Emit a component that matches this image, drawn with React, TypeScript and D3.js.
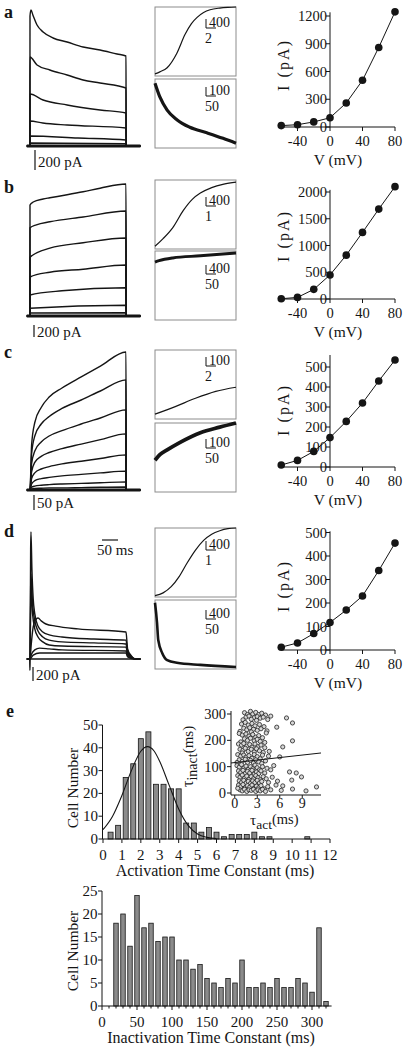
import React from "react";
import * as d3 from "d3";

const FONT = "'Liberation Serif', 'Times New Roman', Times, serif";
const INK = "#151515";
const BOX = "#8c8c8c";
const BAR_FILL = "#8b8b8b";

type Pt = [number, number];
type Trace = { t: number[]; v: number[] };

// ================= DATA =================
const panelLetters = ["a", "b", "c", "d", "e"];

// whole-cell current traces: time (ms) and current above baseline (pA)
const tracesA: Trace[] = [
  { t: [0, 3, 9, 22, 41, 72, 116, 166, 219, 272, 300], v: [1300, 1360, 1310, 1210, 1140, 1080, 1040, 990, 960, 920, 900] },
  { t: [0, 22, 62, 116, 166, 219, 300], v: [890, 810, 760, 710, 660, 630, 580] },
  { t: [0, 41, 116, 219, 300], v: [520, 460, 410, 360, 330] },
  { t: [0, 40, 116, 300], v: [250, 230, 210, 180] },
  { t: [0, 150, 300], v: [100, 80, 60] },
  { t: [0, 300], v: [30, 22] },
  { t: [0, 300], v: [0, 0] },
];
const tracesB: Trace[] = [
  { t: [0, 10, 41, 62, 116, 166, 219, 300], v: [1850, 1900, 1950, 1970, 2020, 2070, 2130, 2200] },
  { t: [0, 20, 62, 166, 300], v: [1470, 1520, 1570, 1650, 1750] },
  { t: [0, 62, 166, 300], v: [980, 1130, 1220, 1300] },
  { t: [0, 62, 166, 300], v: [650, 730, 780, 850] },
  { t: [0, 100, 300], v: [350, 420, 470] },
  { t: [0, 300], v: [130, 180] },
  { t: [0, 300], v: [50, 55] },
  { t: [0, 300], v: [0, 0] },
];
const cTimes = [0, 5, 15, 35, 60, 100, 160, 220, 300];
const tracesC: Trace[] = [
  { t: cTimes, v: [0, 150, 225, 275, 310, 340, 377, 413, 460] },
  { t: cTimes, v: [0, 120, 180, 220, 245, 272, 300, 330, 367] },
  { t: cTimes, v: [0, 88, 130, 160, 180, 198, 220, 240, 267] },
  { t: cTimes, v: [0, 60, 92, 112, 125, 138, 153, 168, 187] },
  { t: cTimes, v: [0, 38, 57, 70, 78, 87, 96, 105, 117] },
  { t: cTimes, v: [0, 20, 31, 38, 42, 47, 52, 57, 63] },
  { t: cTimes, v: [0, 9, 13, 16, 18, 20, 22, 24, 27] },
  { t: cTimes, v: [0, 3, 5, 6, 7, 7, 8, 9, 10] },
];
const tracesD: Trace[] = [
  { t: [0, 2, 3, 6, 10, 15, 25, 40, 60, 100, 200, 300, 305, 315, 330], v: [0, 1570, 1815, 1285, 860, 645, 470, 385, 345, 315, 285, 270, 115, 45, 0] },
  { t: [0, 2, 3, 8, 15, 25, 40, 60, 100, 200, 300, 305, 315, 330], v: [0, 1000, 1215, 785, 545, 400, 315, 270, 245, 230, 215, 85, 30, 0] },
  { t: [0, 4, 10, 18, 25, 35, 50, 80, 150, 300, 305, 315, 330], v: [0, 215, 460, 560, 585, 545, 500, 470, 430, 385, 145, 55, 0] },
  { t: [0, 2, 3, 8, 15, 25, 40, 60, 100, 300, 305, 315, 330], v: [0, 715, 1000, 645, 430, 315, 245, 200, 185, 170, 70, 30, 0] },
  { t: [0, 5, 15, 30, 60, 100, 300, 305, 315, 330], v: [0, 70, 130, 155, 145, 130, 115, 45, 15, 0] },
  { t: [0, 10, 30, 300, 305, 330], v: [0, 55, 85, 85, 30, 0] },
  { t: [-1, -0.3, 0.6, 2], v: [0, -160, 0, 0] },
];
const allTraces = [tracesA, tracesB, tracesC, tracesD];
const scaleBarPA = [200, 200, 50, 200];
const scaleBarLabel = ["200 pA", "200 pA", "50 pA", "200 pA"];
const timeBarMs = 50;

// insets: normalized activation / inactivation time courses
const actX = [
  [0, 0.06, 0.15, 0.27, 0.37, 0.45, 0.52, 0.6, 0.68, 0.8, 0.9, 1],
  [0, 0.1, 0.22, 0.35, 0.46, 0.56, 0.7, 0.85, 1],
  [0, 0.25, 0.5, 0.75, 1],
  [0, 0.1, 0.2, 0.3, 0.4, 0.5, 0.6, 0.7, 0.8, 0.9, 1],
];
const actY = [
  [0.03, 0.06, 0.12, 0.33, 0.6, 0.76, 0.85, 0.92, 0.96, 0.985, 0.995, 1],
  [0.04, 0.15, 0.31, 0.56, 0.72, 0.81, 0.89, 0.94, 0.97],
  [0.07, 0.18, 0.3, 0.4, 0.46],
  [0.02, 0.06, 0.15, 0.3, 0.5, 0.68, 0.82, 0.91, 0.96, 0.99, 1],
];
const inactX = [
  [0, 0.06, 0.15, 0.27, 0.43, 0.64, 0.84, 1],
  [0, 0.05, 0.22, 0.56, 1],
  [0, 0.06, 0.15, 0.31, 0.56, 0.8, 1],
  [0, 0.025, 0.04, 0.09, 0.15, 0.27, 0.56, 1],
];
const inactY = [
  [0.94, 0.74, 0.55, 0.41, 0.3, 0.22, 0.14, 0.07],
  [0.84, 0.86, 0.9, 0.93, 0.97],
  [0.46, 0.54, 0.61, 0.72, 0.86, 0.94, 1.0],
  [0.96, 0.67, 0.42, 0.23, 0.13, 0.09, 0.06, 0.03],
];
const actAmpLabel = ["400", "400", "100", "400"];
const actTimeLabel = ["2", "1", "2", "1"];
const inactAmpLabel = ["100", "400", "100", "400"];
const inactTimeLabel = ["50", "50", "50", "50"];

// I-V relations
const ivVoltage = [-60, -40, -20, 0, 20, 40, 60, 80];
const ivCurrentA = [15, 25, 55, 100, 260, 505, 860, 1245];
const ivCurrentB = [5, 30, 180, 450, 820, 1245, 1680, 2100];
const ivCurrentC = [10, 33, 78, 147, 228, 320, 430, 535];
const ivCurrentD = [12, 30, 70, 117, 170, 230, 338, 455];
const ivXTicks = [-40, 0, 40, 80];
const ivYTicksA = [0, 300, 600, 900, 1200];
const ivYTicksB = [0, 500, 1000, 1500, 2000];
const ivYTicksC = [0, 100, 200, 300, 400, 500];
const ivYTicksD = [0, 100, 200, 300, 400, 500];
const ivYMax = [1240, 2040, 560, 505];

// e: activation time-constant histogram
const actBinCenters = [0.4, 0.8, 1.2, 1.6, 2.0, 2.4, 2.8, 3.2, 3.6, 4.0, 4.4, 4.8, 5.2, 5.6, 6.0, 6.4, 6.8, 7.2, 7.6, 8.0, 8.4, 8.8, 9.2, 9.6, 10.0, 10.4, 10.8];
const actCounts = [3, 6, 27, 33, 44, 47, 24, 24, 22, 22, 7, 7, 3, 5, 3, 1, 2, 2, 2, 3, 1, 1, 0, 0, 0, 0, 1];
const actFitX = [0, 0.5, 1, 1.5, 2, 2.35, 2.7, 3, 3.5, 4, 4.5, 5, 5.5, 6];
const actFitY = [4.1, 9.9, 19.1, 30, 38.5, 40.5, 38.6, 34, 23.5, 13.2, 6, 2.2, 0.7, 0.2];
const actXTicks = [0, 1, 2, 3, 4, 5, 6, 7, 8, 9, 10, 11, 12];
const actYTicks = [0, 10, 20, 30, 40, 50];

// e: inactivation time-constant histogram
const inactBinCenters = [20, 30, 40, 50, 60, 70, 80, 90, 100, 110, 120, 130, 140, 150, 160, 170, 180, 190, 200, 210, 220, 230, 240, 250, 260, 270, 280, 290, 300, 310, 320];
const inactCounts = [18, 20, 13, 24, 17, 18, 14, 15, 15, 10, 10, 8, 9, 6, 5, 4, 6, 5, 10, 4, 4, 5, 4, 6, 4, 4, 6, 5, 3, 17, 1];
const inactXTicks = [0, 50, 100, 150, 200, 250, 300];
const inactYTicks = [0, 5, 10, 15, 20, 25];

// e inset: tau_inact vs tau_act scatter (ms)
const scatterPoints: Pt[] = [
  [1.3, 305], [1.7, 298], [2.1, 310], [2.4, 300], [2.8, 306], [3.2, 298], [3.6, 303], [4.1, 296], [1.5, 288], [1.9, 292],
  [2.6, 286], [3.0, 290], [3.4, 284], [3.8, 288], [4.8, 292], [6.9, 285], [1.1, 278], [2.2, 280], [2.9, 276], [4.4, 279], [7.7, 266],
  [0.9, 262], [1.4, 268], [1.8, 258], [2.3, 264], [2.7, 255], [3.3, 260], [3.9, 252], [1.2, 246], [1.6, 240], [2.0, 248],
  [2.5, 242], [3.0, 238], [3.5, 244], [4.3, 236], [5.6, 250], [0.7, 234], [2.2, 232],
  [0.6, 226], [1.0, 220], [1.5, 224], [1.9, 216], [2.4, 222], [2.8, 212], [3.2, 218], [3.7, 210], [4.2, 228], [1.3, 206],
  [1.7, 200], [2.1, 208], [2.6, 198], [3.0, 204], [3.4, 196], [0.8, 194], [7.7, 198], [4.0, 192],
  [0.5, 186], [0.9, 182], [1.2, 188], [1.6, 178], [2.0, 184], [2.3, 174], [2.7, 186], [3.1, 176], [3.5, 182], [4.0, 172],
  [6.4, 175], [0.7, 166], [1.1, 162], [1.4, 170], [1.8, 158], [2.2, 166], [2.6, 156], [2.9, 168], [3.3, 160], [3.8, 154], [1.0, 152], [4.6, 158],
  [0.4, 146], [0.8, 140], [1.2, 144], [1.5, 136], [1.9, 142], [2.3, 132], [2.6, 146], [3.0, 138], [3.4, 130], [3.7, 144],
  [4.5, 140], [6.0, 137], [0.6, 126], [1.0, 120], [1.4, 128], [1.7, 116], [2.1, 124], [2.5, 114], [2.8, 126], [3.2, 118], [3.6, 112], [4.1, 122], [0.3, 116],
  [0.3, 104], [0.6, 98], [0.9, 108], [1.2, 94], [1.5, 102], [1.8, 90], [2.1, 100], [2.4, 92], [2.7, 106], [3.0, 96],
  [3.3, 88], [3.7, 100], [4.3, 94], [5.2, 104], [0.5, 84], [0.8, 78], [1.1, 86], [1.4, 74], [1.7, 82], [2.0, 76],
  [2.3, 86], [2.6, 72], [2.9, 80], [3.2, 74], [3.5, 84], [4.0, 76], [4.8, 88],
  [0.4, 66], [0.7, 60], [1.0, 68], [1.3, 56], [1.6, 64], [1.9, 52], [2.2, 62], [2.5, 54], [2.8, 66], [3.1, 58],
  [3.4, 50], [3.8, 62], [4.2, 54], [5.0, 60], [7.3, 80], [8.2, 76], [8.9, 61], [7.6, 49], [0.6, 46], [0.9, 40],
  [1.2, 48], [1.5, 38], [1.8, 44], [2.1, 36], [2.4, 46], [2.7, 40], [3.0, 48], [3.3, 38], [3.6, 44], [4.5, 40], [5.7, 45],
  [0.5, 30], [0.8, 24], [1.1, 32], [1.4, 20], [1.7, 28], [2.0, 22], [2.3, 30], [2.6, 18], [2.9, 26], [3.2, 20],
  [3.5, 28], [3.9, 16], [4.4, 24], [5.5, 30], [6.4, 27], [7.7, 15], [10.9, 23], [6.2, 10], [9.5, 8], [0.7, 12],
  [1.0, 8], [1.3, 14], [1.6, 6], [1.9, 12], [2.2, 10], [2.5, 14], [2.8, 6], [3.1, 12], [3.4, 8], [3.7, 14], [4.1, 6], [4.8, 12], [0.4, 18],
];
const scatterFitAct = [-0.5, 11.5];
const scatterFitInact = [114, 152];
const scatterXTicks = [0, 3, 6, 9];
const scatterYTicks = [0, 100, 200, 300];

// ================= LAYOUT =================
const traceBase = [146, 316, 490, 659];
const tracePxPerPA = [0.1, 0.06, 0.3, 0.07];
const scaleBarTop = [150, 325, 495, 667];
const scaleBarX = [35, 34, 34, 33];
const scaleTextY = [167, 337, 508, 680];
const letterY = [18, 193, 358, 537, 717];
const actBoxTop = [7, 180, 350, 528];
const inactBoxTop = [79, 251, 423, 600];
const actBarY = [28, 206, 366, 550];
const inactBarY = [96, 274, 448, 619];
const inactStroke = [3.2, 3, 3.8, 2.6];
const ivY0 = [127, 299, 467, 650];
const ivK = [0.0925, 0.0535, 0.2, 0.235];
const ivLabelCY = [66, 237, 411, 587];

const tScale = d3.scaleLinear().domain([-10, 345]).range([26.8, 140.4]);

function buildTrace(t: number[], v: number[]): Pt[] {
  const pts: Pt[] = [[-10, 0]];
  if (t[0] >= 0 && v[0] !== 0) pts.push([t[0] - 0.3, 0]);
  t.forEach((ti, i) => pts.push([ti, v[i]]));
  const last = t[t.length - 1];
  if (v[v.length - 1] !== 0) pts.push([last + 0.4, 0]);
  pts.push([345, 0]);
  return pts;
}

function TracePanel({ i }: { i: number }) {
  const base = traceBase[i];
  const k = tracePxPerPA[i];
  const y = d3.scaleLinear().domain([0, 1000]).range([base, base - 1000 * k]);
  const line = d3
    .line<Pt>()
    .x((d) => tScale(d[0]))
    .y((d) => y(d[1]))
    .curve(d3.curveMonotoneX);
  const barLen = y(0) - y(scaleBarPA[i]);
  return (
    <g>
      {i < 3 && (
        <line x1={tScale(-10)} x2={tScale(345)} y1={y(0)} y2={y(0)} stroke={INK} strokeWidth={3} />
      )}
      {allTraces[i].map((tr, j) => (
        <path key={j} d={line(buildTrace(tr.t, tr.v)) || ""} fill="none" stroke={INK} strokeWidth={1.4} />
      ))}
      <line x1={scaleBarX[i]} x2={scaleBarX[i]} y1={scaleBarTop[i]} y2={scaleBarTop[i] + barLen} stroke={INK} strokeWidth={1.2} />
      <text x={scaleBarX[i] + 3} y={scaleTextY[i]} fontSize={15}>{scaleBarLabel[i]}</text>
    </g>
  );
}

function Inset({ top, xs, ys, sw, barY, amp, time }: { top: number; xs: number[]; ys: number[]; sw: number; barY: number; amp: string; time: string }) {
  const w = 81;
  const h = 69;
  const x0 = 155;
  const sx = d3.scaleLinear().domain([0, 1]).range([x0, x0 + w]);
  const sy = d3.scaleLinear().domain([0, 1]).range([top + h, top]);
  const line = d3
    .line<number>()
    .x((_, j) => sx(xs[j]))
    .y((d) => sy(d))
    .curve(d3.curveMonotoneX);
  return (
    <g>
      <rect x={x0} y={top} width={w} height={h} fill="none" stroke={BOX} strokeWidth={1} />
      <path d={line(ys) || ""} fill="none" stroke={INK} strokeWidth={sw} />
      <path d={`M206,${barY - 9}V${barY}H216`} fill="none" stroke={INK} strokeWidth={1} />
      <text x={209} y={barY - 1} fontSize={14}>{amp}</text>
      <text x={205} y={barY + 15} fontSize={14}>{time}</text>
    </g>
  );
}

function IVPlot({ i, current, yTicks }: { i: number; current: number[]; yTicks: number[] }) {
  const y0 = ivY0[i];
  const ymax = ivYMax[i];
  const x = d3.scaleLinear().domain([-60, 80]).range([281.25, 395]);
  const y = d3.scaleLinear().domain([0, ymax]).range([y0, y0 - ymax * ivK[i]]);
  const line = d3
    .line<number>()
    .x((_, j) => x(ivVoltage[j]))
    .y((d) => y(d));
  const ax = x(0);
  return (
    <g>
      <line x1={x(-60)} x2={x(80)} y1={y0} y2={y0} stroke={INK} strokeWidth={1} />
      {ivXTicks.map((v) => (
        <g key={v}>
          <line x1={x(v)} x2={x(v)} y1={y0} y2={y0 + 4} stroke={INK} />
          <text x={x(v)} y={y0 + 19} textAnchor="middle" fontSize={14.5}>{v}</text>
        </g>
      ))}
      <line x1={ax} x2={ax} y1={y0} y2={y(ymax)} stroke={INK} strokeWidth={1} />
      {yTicks.map((v) => (
        <g key={v}>
          <line x1={ax - 4} x2={ax} y1={y(v)} y2={y(v)} stroke={INK} />
          <text x={ax - 3} y={y(v) + 5} textAnchor="end" fontSize={14.5}>{v}</text>
        </g>
      ))}
      <path d={line(current) || ""} fill="none" stroke={INK} strokeWidth={1} />
      {current.map((c, j) => (
        <circle key={j} cx={x(ivVoltage[j])} cy={y(c)} r={3.8} fill={INK} />
      ))}
      <text x={338} y={y0 + 38} textAnchor="middle" fontSize={15.5}>V (mV)</text>
      <text
        transform={`translate(289,${ivLabelCY[i]}) rotate(-90)`}
        textAnchor="middle"
        fontSize={16}
        textLength={50}
        lengthAdjust="spacing"
      >
        I (pA)
      </text>
    </g>
  );
}

function ActHistogram() {
  const x = d3.scaleLinear().domain([0, 12]).range([103, 330]);
  const y = d3.scaleLinear().domain([0, 50]).range([839, 725]);
  const bw = x(0.265) - x(0);
  const fit = d3
    .line<number>()
    .x((_, j) => x(actFitX[j]))
    .y((d) => y(d))
    .curve(d3.curveMonotoneX);
  return (
    <g>
      {actCounts.map((c, j) =>
        c > 0 ? (
          <rect key={j} x={x(actBinCenters[j]) - bw / 2} y={y(c)} width={bw} height={y(0) - y(c)} fill={BAR_FILL} stroke={INK} strokeWidth={0.8} />
        ) : null
      )}
      <path d={fit(actFitY) || ""} fill="none" stroke={INK} strokeWidth={1.1} />
      <line x1={102.5} x2={x(12)} y1={y(0)} y2={y(0)} stroke={INK} />
      {actXTicks.map((v) => (
        <g key={v}>
          <line x1={x(v)} x2={x(v)} y1={y(0)} y2={y(0) + 4} stroke={INK} />
          <text x={x(v)} y={y(0) + 21} textAnchor="middle" fontSize={15}>{v}</text>
        </g>
      ))}
      <line x1={102.5} x2={102.5} y1={y(0)} y2={y(50)} stroke={INK} />
      {actYTicks.map((v) => (
        <g key={v}>
          <line x1={98.5} x2={102.5} y1={y(v)} y2={y(v)} stroke={INK} />
          <text x={98} y={y(v) + 5} textAnchor="end" fontSize={15}>{v}</text>
        </g>
      ))}
      <text transform="translate(78,788) rotate(-90)" textAnchor="middle" fontSize={15.5}>Cell Number</text>
      <text x={215} y={876} textAnchor="middle" fontSize={16}>Activation Time Constant (ms)</text>
    </g>
  );
}

function InactHistogram() {
  const x = d3.scaleLinear().domain([0, 328]).range([102, 331.6]);
  const y = d3.scaleLinear().domain([0, 25]).range([1006, 891]);
  const bw = x(6.4) - x(0);
  const minor = d3.range(0, 330, 10);
  return (
    <g>
      {inactCounts.map((c, j) => (
        <rect key={j} x={x(inactBinCenters[j]) - bw / 2} y={y(c)} width={bw} height={y(0) - y(c)} fill={BAR_FILL} stroke={INK} strokeWidth={0.8} />
      ))}
      <line x1={102} x2={x(328)} y1={y(0)} y2={y(0)} stroke={INK} />
      {minor.map((v) => (
        <line key={v} x1={x(v)} x2={x(v)} y1={y(0)} y2={y(0) + (v % 50 === 0 ? 4 : 2.5)} stroke={INK} />
      ))}
      {inactXTicks.map((v) => (
        <text key={v} x={x(v)} y={y(0) + 21} textAnchor="middle" fontSize={15}>{v}</text>
      ))}
      <line x1={102} x2={102} y1={y(0)} y2={y(25)} stroke={INK} />
      {inactYTicks.map((v) => (
        <g key={v}>
          <line x1={98} x2={102} y1={y(v)} y2={y(v)} stroke={INK} />
          <text x={97.5} y={y(v) + 5} textAnchor="end" fontSize={15}>{v}</text>
        </g>
      ))}
      <text transform="translate(78,951) rotate(-90)" textAnchor="middle" fontSize={15.5}>Cell Number</text>
      <text x={211} y={1043} textAnchor="middle" fontSize={16}>Inactivation Time Constant (ms)</text>
    </g>
  );
}

function ScatterInset() {
  const x = d3.scaleLinear().domain([-0.5, 11.5]).range([231, 321]);
  const y = d3.scaleLinear().domain([0, 300]).range([793, 714]);
  return (
    <g>
      {scatterPoints.map((p, j) => (
        <circle key={j} cx={x(p[0])} cy={y(p[1])} r={2.1} fill="#d6d6d6" stroke="#222" strokeWidth={0.8} />
      ))}
      <line x1={x(scatterFitAct[0])} x2={x(scatterFitAct[1])} y1={y(scatterFitInact[0])} y2={y(scatterFitInact[1])} stroke={INK} strokeWidth={1} />
      <line x1={231} x2={321} y1={795} y2={795} stroke={INK} />
      {scatterXTicks.map((v) => (
        <g key={v}>
          <line x1={x(v)} x2={x(v)} y1={795} y2={798} stroke={INK} />
          <text x={x(v)} y={808} textAnchor="middle" fontSize={14}>{v}</text>
        </g>
      ))}
      <line x1={231} x2={231} y1={795} y2={711} stroke={INK} />
      {scatterYTicks.map((v) => (
        <g key={v}>
          <line x1={227} x2={231} y1={y(v)} y2={y(v)} stroke={INK} />
          <text x={226} y={y(v) + 5} textAnchor="end" fontSize={14.5}>{v}</text>
        </g>
      ))}
      <text x={250} y={825} fontSize={15.5}>
        τ<tspan fontSize={13.5} dy={4}>act</tspan>
        <tspan fontSize={14.5} dy={-5}>(ms)</tspan>
      </text>
      <text transform="translate(193,787) rotate(-90)" fontSize={16}>
        τ<tspan fontSize={14} dy={4}>inact</tspan>
        <tspan fontSize={15} dy={-4}>(ms)</tspan>
      </text>
    </g>
  );
}

export default function App() {
  const ivCurrents = [ivCurrentA, ivCurrentB, ivCurrentC, ivCurrentD];
  const ivYTicks = [ivYTicksA, ivYTicksB, ivYTicksC, ivYTicksD];
  return (
    <svg
      width={410}
      height={1050}
      style={{ position: "absolute", left: 0, top: 0, background: "#fff" }}
      fontFamily={FONT}
      fill={INK}
    >
      <rect x={0} y={0} width={410} height={1050} fill="#fff" />
      {panelLetters.map((l, i) => (
        <text key={l} x={i === 4 ? 6 : 4} y={letterY[i]} fontSize={18} fontWeight="bold">{l}</text>
      ))}
      {[0, 1, 2, 3].map((i) => (
        <g key={i}>
          <TracePanel i={i} />
          <Inset top={actBoxTop[i]} xs={actX[i]} ys={actY[i]} sw={1.2} barY={actBarY[i]} amp={actAmpLabel[i]} time={actTimeLabel[i]} />
          <Inset top={inactBoxTop[i]} xs={inactX[i]} ys={inactY[i]} sw={inactStroke[i]} barY={inactBarY[i]} amp={inactAmpLabel[i]} time={inactTimeLabel[i]} />
          <IVPlot i={i} current={ivCurrents[i]} yTicks={ivYTicks[i]} />
        </g>
      ))}
      <line x1={102} x2={102 + (tScale(timeBarMs) - tScale(0))} y1={540} y2={540} stroke={INK} strokeWidth={1.2} />
      <text x={97} y={555} fontSize={15}>50 ms</text>
      <ActHistogram />
      <ScatterInset />
      <InactHistogram />
    </svg>
  );
}
